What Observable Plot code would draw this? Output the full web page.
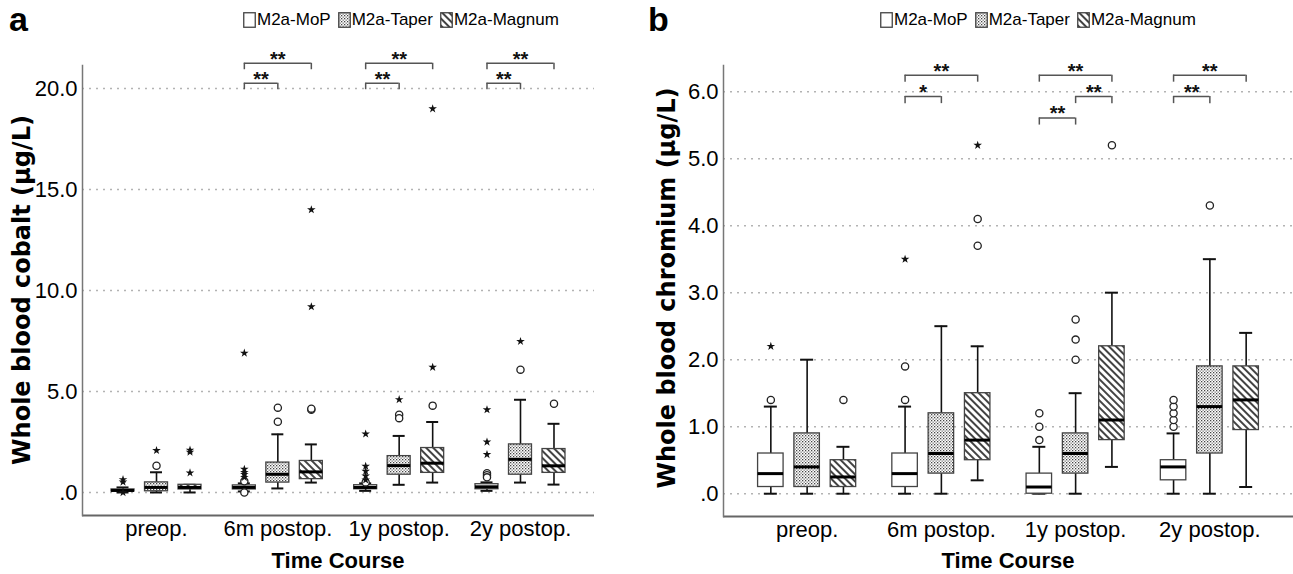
<!DOCTYPE html>
<html><head><meta charset="utf-8">
<script src="https://cdn.jsdelivr.net/npm/d3@7"></script>
<script src="https://cdn.jsdelivr.net/npm/@observablehq/plot@0.6"></script>
<style>
body{margin:0;background:#fff;}
#page{position:relative;width:1293px;height:574px;overflow:hidden;font-family:"Liberation Sans",Arial,sans-serif;color:#000;}
.panel{position:absolute;top:0;}
.tag{position:absolute;font-family:"Liberation Sans",Arial,sans-serif;font-weight:bold;font-size:34px;line-height:1;}
.legend{position:absolute;display:flex;align-items:center;font-size:17px;white-space:nowrap;line-height:1;}
.legend .item{display:flex;align-items:center;margin-right:7px;}
.legend svg{margin-right:1px;}
.xtitle{position:absolute;font-weight:bold;font-size:22px;transform:translate(-50%,-50%);white-space:nowrap;line-height:1;}
.ytitle{position:absolute;font-family:"DejaVu Sans",sans-serif;font-weight:bold;font-size:24px;transform:translate(-50%,-50%) rotate(-90deg);white-space:nowrap;line-height:1;}
</style></head>
<body>
<svg width="0" height="0" style="position:absolute">
  <defs>
    <pattern id="pDots" width="3" height="3" patternUnits="userSpaceOnUse">
      <rect width="3" height="3" fill="#fff"/>
      <rect x="0" y="0" width="1.3" height="1.3" fill="#444"/>
      <rect x="1.5" y="1.5" width="1.3" height="1.3" fill="#777"/>
    </pattern>
    <pattern id="pHatch" width="5" height="5" patternUnits="userSpaceOnUse" patternTransform="rotate(-45)">
      <rect width="5" height="5" fill="#fff"/>
      <line x1="1" y1="0" x2="1" y2="5" stroke="#222" stroke-width="1.7"/>
    </pattern>
  </defs>
</svg>
<div id="page"></div>
<script>
// ---------- data ----------
const times = ["preop.", "6m postop.", "1y postop.", "2y postop."];
const implants = ["M2a-MoP", "M2a-Taper", "M2a-Magnum"];

// Whole blood cobalt (µg/L) — order: time-major, implant-minor
const coLow  = [0, 0, 0,       0.05, 0.2, 0.49,  0.08, 0.38, 0.49,  0.08, 0.49, 0.39];
const coQ1   = [0.05, 0.06, 0.15, 0.15, 0.49, 0.66, 0.16, 0.88, 0.97, 0.16, 0.88, 0.97];
const coMed  = [0.1, 0.25, 0.25,  0.25, 0.9, 1.02,  0.25, 1.33, 1.45, 0.28, 1.64, 1.32];
const coQ3   = [0.15, 0.5, 0.38,  0.35, 1.48, 1.56, 0.36, 1.8, 2.2,   0.41, 2.38, 2.15];
const coHigh = [0.25, 1.0, 0.38,  0.45, 2.88, 2.38, 0.45, 2.8, 3.49,  0.5, 4.59, 3.4];
const coCircles = [[], [1.32], [], [0.55, 0.0], [4.2, 3.5], [4.1, 4.15], [0.5], [3.85, 3.68], [4.3], [0.95, 0.85, 0.75], [6.08], [4.39]];
const coStars = [[0.64, 0.52, 0.0], [2.08], [2.1, 2.0, 0.97], [6.9, 1.15, 1.0, 0.9, 0.75], [], [14.0, 9.2], [2.9, 1.3, 1.05, 0.82, 0.62], [4.6], [19.0, 6.2], [4.1, 2.5, 1.88], [7.48], []];
const coTicks = [0, 5, 10, 15, 20];
const coBrackets = [
  ["6m postop.", "M2a-MoP", "M2a-Taper", "**", 1], ["6m postop.", "M2a-MoP", "M2a-Magnum", "**", 2],
  ["1y postop.", "M2a-MoP", "M2a-Taper", "**", 1], ["1y postop.", "M2a-MoP", "M2a-Magnum", "**", 2],
  ["2y postop.", "M2a-MoP", "M2a-Taper", "**", 1], ["2y postop.", "M2a-MoP", "M2a-Magnum", "**", 2]
];

// Whole blood chromium (µg/L)
const crLow  = [0, 0, 0,       0, 0, 0.2,      0, 0, 0.4,      0, 0, 0.1];
const crQ1   = [0.1, 0.1, 0.1, 0.1, 0.3, 0.5,  0.0, 0.3, 0.8,  0.2, 0.6, 0.95];
const crMed  = [0.3, 0.4, 0.25, 0.3, 0.6, 0.8, 0.1, 0.6, 1.1,  0.4, 1.3, 1.4];
const crQ3   = [0.6, 0.9, 0.5, 0.6, 1.2, 1.5,  0.3, 0.9, 2.2,  0.5, 1.9, 1.9];
const crHigh = [1.3, 2.0, 0.7, 1.3, 2.5, 2.2,  0.7, 1.5, 3.0,  0.9, 3.5, 2.4];
const crCircles = [[1.4], [], [1.4], [1.4, 1.9], [], [4.1, 3.7], [1.2, 1.0, 0.8], [2.0, 2.3, 2.6], [5.2], [1.0, 1.1, 1.2, 1.3, 1.4], [4.3], []];
const crStars = [[2.2], [], [], [3.5], [], [5.2], [], [], [], [], [], []];
const crTicks = [0, 1, 2, 3, 4, 5, 6];
const crBrackets = [
  ["6m postop.", "M2a-MoP", "M2a-Taper", "*", 2], ["6m postop.", "M2a-MoP", "M2a-Magnum", "**", 3],
  ["1y postop.", "M2a-MoP", "M2a-Taper", "**", 1], ["1y postop.", "M2a-Taper", "M2a-Magnum", "**", 2], ["1y postop.", "M2a-MoP", "M2a-Magnum", "**", 3],
  ["2y postop.", "M2a-MoP", "M2a-Taper", "**", 2], ["2y postop.", "M2a-MoP", "M2a-Magnum", "**", 3]
];

// ---------- drawing ----------
const fills = ["#fff", "url(#pDots)", "url(#pHatch)"];
const fmt = d => d === 0 ? ".0" : d.toFixed(1);

function panel(cfg) {
  const {width, height, mL, mR, mT, mB, po, boxStep, boxW, capW, yDomain, ticks,
         low, q1, med, q3, high, circles, stars, brackets, levelBase, levelStep, drop} = cfg;
  const W = width - mL - mR;
  const bw = W / (times.length + 2 * po);
  const off = i => (i - 1) * boxStep;
  const boxInset = (bw - boxW) / 2;
  const capInset = (bw - capW) / 2;
  const rows = [];
  const circ = [], star = [];
  times.forEach((t, ti) => implants.forEach((imp, ii) => {
    const k = ti * 3 + ii;
    rows.push({time: t, ii, lo: low[k], q1: q1[k], med: med[k], q3: q3[k], hi: high[k]});
    circles[k].forEach(v => circ.push({time: t, ii, v}));
    stars[k].forEach(v => star.push({time: t, ii, v}));
  }));
  const marks = [
    Plot.ruleY(ticks, {stroke: "#b3b3b3", strokeWidth: 1.5, strokeDasharray: "2,5"}),
    Plot.ruleY([yDomain[0]], {stroke: "#666", strokeWidth: 2}),
    Plot.frame({anchor: "left", stroke: "#777", strokeWidth: 1.5})
  ];
  implants.forEach((imp, i) => {
    const R = rows.filter(d => d.ii === i);
    const dx = off(i);
    marks.push(
      Plot.ruleX(R, {x: "time", y1: "lo", y2: "q1", dx, stroke: "#111", strokeWidth: 1.6}),
      Plot.ruleX(R, {x: "time", y1: "q3", y2: "hi", dx, stroke: "#111", strokeWidth: 1.6}),
      Plot.tickY(R, {x: "time", y: "lo", dx, insetLeft: capInset, insetRight: capInset, stroke: "#111", strokeWidth: 2}),
      Plot.tickY(R, {x: "time", y: "hi", dx, insetLeft: capInset, insetRight: capInset, stroke: "#111", strokeWidth: 2}),
      Plot.barY(R, {x: "time", y1: "q1", y2: "q3", dx, insetLeft: boxInset, insetRight: boxInset, fill: fills[i], stroke: "#444", strokeWidth: 1.3}),
      Plot.tickY(R, {x: "time", y: "med", dx, insetLeft: boxInset, insetRight: boxInset, stroke: "#000", strokeWidth: 3}),
      Plot.dot(circ.filter(d => d.ii === i), {x: "time", y: "v", dx, r: 3.6, stroke: "#222", strokeWidth: 1.3, fill: "#fff"}),
      Plot.dot(star.filter(d => d.ii === i), {x: "time", y: "v", dx, symbol: "star", r: 2.7, fill: "#111", stroke: "none"})
    );
  });
  brackets.forEach(([t, a, b, lab, lev]) => {
    const ia = implants.indexOf(a), ib = implants.indexOf(b);
    const y = levelBase + (lev - 1) * levelStep;
    const d = [{time: t, y, y0: y - drop, lab}];
    marks.push(
      Plot.ruleY(d, {x1: "time", x2: "time", y: "y", insetLeft: bw / 2 + off(ia), insetRight: bw / 2 - off(ib), stroke: "#555", strokeWidth: 1.5}),
      Plot.ruleX(d, {x: "time", y1: "y0", y2: "y", dx: off(ia), stroke: "#555", strokeWidth: 1.5}),
      Plot.ruleX(d, {x: "time", y1: "y0", y2: "y", dx: off(ib), stroke: "#555", strokeWidth: 1.5}),
      Plot.text(d, {x: "time", y: "y", text: "lab", dx: (off(ia) + off(ib)) / 2, dy: -4, fontSize: 20, fontWeight: "bold", fill: "#111"})
    );
  });
  return Plot.plot({
    width, height, marginLeft: mL, marginRight: mR, marginTop: mT, marginBottom: mB,
    style: {fontFamily: '"Liberation Sans",Arial,sans-serif', fontSize: "22px", color: "#000", background: "transparent", overflow: "visible"},
    x: {type: "band", domain: times, paddingInner: 0, paddingOuter: po, align: 0.5, round: false, tickSize: 0, tickPadding: 5, label: null},
    y: {domain: yDomain, ticks, tickFormat: fmt, tickSize: 0, tickPadding: 5, label: null},
    marks
  });
}

const page = document.getElementById("page");
function add(html) { const d = document.createElement("div"); d.innerHTML = html; const e = d.firstElementChild; page.appendChild(e); return e; }
function swatch(i) {
  return `<svg width="13" height="16"><rect x="0.75" y="0.75" width="11.5" height="14.5" fill="${fills[i]}" stroke="#444" stroke-width="1.3"/></svg>`;
}
function legend(left, top) {
  add(`<div class="legend" style="left:${left}px;top:${top}px">${implants.map((s, i) => `<span class="item">${swatch(i)}${s}</span>`).join("")}</div>`);
}

const pa = panel({
  width: 640, height: 574, mL: 82, mR: 46, mT: 65, mB: 59, po: 0.11,
  boxStep: 33.5, boxW: 23, capW: 12, yDomain: [-1.14, 21.14], ticks: coTicks,
  low: coLow, q1: coQ1, med: coMed, q3: coQ3, high: coHigh, circles: coCircles, stars: coStars,
  brackets: coBrackets, levelBase: 20.26, levelStep: 0.99, drop: 0.32
});
pa.classList.add("panel"); pa.style.left = "0px"; page.appendChild(pa);

const pb = panel({
  width: 653, height: 574, mL: 83, mR: 0, mT: 65, mB: 58, po: 0.123,
  boxStep: 36.3, boxW: 25.5, capW: 13, yDomain: [-0.34, 6.39], ticks: crTicks,
  low: crLow, q1: crQ1, med: crMed, q3: crQ3, high: crHigh, circles: crCircles, stars: crStars,
  brackets: crBrackets, levelBase: 5.606, levelStep: 0.32, drop: 0.105
});
pb.classList.add("panel"); pb.style.left = "640px"; page.appendChild(pb);

add(`<div class="tag" style="left:9px;top:2px">a</div>`);
add(`<div class="tag" style="left:648px;top:2px">b</div>`);
legend(243, 11);
legend(880, 11);
add(`<div class="xtitle" style="left:338px;top:561px">Time Course</div>`);
add(`<div class="xtitle" style="left:1008px;top:561px">Time Course</div>`);
add(`<div class="ytitle" style="left:22px;top:290px">Whole blood cobalt (µg/L)</div>`);
add(`<div class="ytitle" style="left:667px;top:288px">Whole blood chromium (µg/L)</div>`);
</script>
</body></html>
